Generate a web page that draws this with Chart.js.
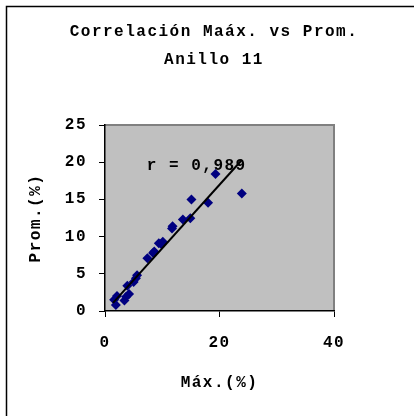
<!DOCTYPE html>
<html>
<head>
<meta charset="utf-8">
<script src="https://cdn.jsdelivr.net/npm/chart.js@4/dist/chart.umd.min.js"></script>
<style>
  html, body { margin: 0; padding: 0; background: #fff; }
  #wrap { width: 414px; height: 416px; }
</style>
</head>
<body>
<div id="wrap"><canvas id="c" width="414" height="416"></canvas></div>
<script>
// data
const maxVals = [1.6, 1.9, 2.1, 3.4, 3.7, 4.2, 3.9, 5.0, 5.4, 5.6, 7.4, 8.4, 8.6, 9.4, 9.8, 10.1, 11.7, 11.8, 13.6, 14.9, 15.1, 18.0, 19.3, 23.9];
const promVals = [1.5, 0.8, 2.0, 1.4, 1.9, 2.3, 3.4, 3.9, 4.4, 4.8, 7.1, 7.8, 8.0, 9.1, 9.0, 9.3, 11.1, 11.4, 12.3, 12.45, 15.0, 14.55, 18.4, 15.8];
const trendX = [1.4, 23.9];
const trendY = [1.1, 20.3];
const rLabel = 'r = 0,989';
const rPos = [7.3, 19.5];
const titleLines = ['Correlación Maáx. vs Prom.', 'Anillo 11'];
const xTitle = 'Máx.(%)';
const yTitle = 'Prom.(%)';

const FONT = '"Liberation Mono", "Courier New", monospace';
const SPACING = '1.5px';

let points = maxVals.map((x, i) => ({ x: x, y: promVals[i] }));
let trend = trendX.map((x, i) => ({ x: x, y: trendY[i] }));

const plotDeco = {
    id: 'plotDeco',
    beforeUpdate(chart) {
        chart.ctx.letterSpacing = SPACING;
    },
    beforeDraw(chart) {
        const ctx = chart.ctx;
        const a = chart.chartArea;
        ctx.letterSpacing = SPACING;
        ctx.save();
        // outer frame (only top and left are visible)
        ctx.strokeStyle = '#000';
        ctx.lineWidth = 1.5;
        ctx.beginPath();
        ctx.moveTo(6.5, 416);
        ctx.lineTo(6.5, 6.5);
        ctx.lineTo(414, 6.5);
        ctx.stroke();
        // gray plot area
        ctx.fillStyle = '#c0c0c0';
        ctx.fillRect(a.left, a.top, a.right - a.left, a.bottom - a.top);
        ctx.strokeStyle = '#808080';
        ctx.lineWidth = 2;
        ctx.beginPath();
        ctx.moveTo(a.left, a.top);
        ctx.lineTo(a.right, a.top);
        ctx.lineTo(a.right, a.bottom);
        ctx.stroke();
        // chart title
        ctx.font = 'bold 16px ' + FONT;
        ctx.fillStyle = '#000';
        ctx.textAlign = 'center';
        ctx.textBaseline = 'middle';
        ctx.fillText(titleLines[0], 214, 32);
        ctx.fillText(titleLines[1], 214, 60);
        ctx.restore();
    },
    beforeDatasetsDraw(chart) {
        const ctx = chart.ctx;
        const xs = chart.scales.x, ys = chart.scales.y;
        ctx.save();
        ctx.font = 'bold 16px ' + FONT;
        ctx.fillStyle = '#000';
        ctx.textBaseline = 'middle';
        ctx.textAlign = 'left';
        ctx.fillText(rLabel, xs.getPixelForValue(rPos[0]), ys.getPixelForValue(rPos[1]));
        ctx.restore();
    }
};

new Chart(document.getElementById('c'), {
    type: 'scatter',
    data: {
        datasets: [
            {
                label: 'Tendencia',
                data: trend,
                showLine: true,
                borderColor: '#000',
                borderWidth: 2,
                pointRadius: 0,
                order: 0
            },
            {
                label: 'Anillo 11',
                data: points,
                pointStyle: 'rectRot',
                pointRadius: 5,
                pointHoverRadius: 5,
                backgroundColor: '#000080',
                borderColor: '#000080',
                borderWidth: 0,
                order: 1
            }
        ]
    },
    options: {
        responsive: false,
        animation: false,
        layout: { padding: { left: 0, right: 80, top: 125, bottom: 0 } },
        plugins: {
            legend: { display: false },
            tooltip: { enabled: false },
            title: { display: false }
        },
        scales: {
            x: {
                type: 'linear',
                min: 0,
                max: 40,
                ticks: { stepSize: 20, color: '#000', padding: 16, font: { family: FONT, size: 16, weight: 'bold' } },
                grid: { drawOnChartArea: false, color: '#000', tickLength: 6 },
                border: { color: '#000', width: 1.5 },
                title: { display: true, text: xTitle, color: '#000', padding: { top: 0, bottom: 23 }, font: { family: FONT, size: 16, weight: 'bold' } },
                afterFit(scale) { scale.height = 416 - 311; }
            },
            y: {
                type: 'linear',
                min: 0,
                max: 25,
                ticks: { stepSize: 5, color: '#000', padding: 12, font: { family: FONT, size: 16, weight: 'bold' } },
                grid: { drawOnChartArea: false, color: '#000', tickLength: 6 },
                border: { color: '#000', width: 1.5 },
                title: { display: true, text: yTitle, color: '#000', padding: { top: 26, bottom: 0 }, font: { family: FONT, size: 16, weight: 'bold' } },
                afterFit(scale) { scale.width = 105; }
            }
        }
    },
    plugins: [plotDeco]
});
</script>
</body>
</html>
